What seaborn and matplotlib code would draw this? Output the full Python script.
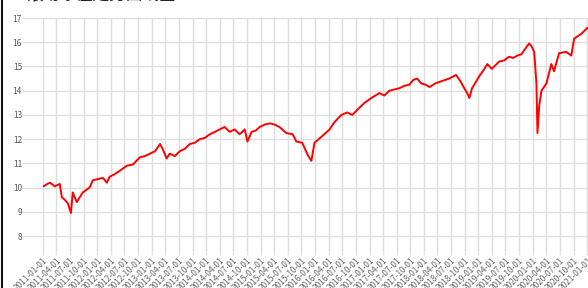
import matplotlib
matplotlib.use("Agg")
import matplotlib.dates as mdates
import matplotlib.pyplot as plt
import pandas as pd
import seaborn as sns
from matplotlib.lines import Line2D

title = "滚动净值走势曲线图"

dates = [
    "2011-01-04", "2011-01-31", "2011-02-18", "2011-03-21", "2011-04-24", "2011-05-08",
    "2011-05-27", "2011-06-17", "2011-07-08", "2011-07-20", "2011-08-16", "2011-09-05",
    "2011-09-26", "2011-11-10", "2011-12-02", "2012-01-05", "2012-02-08", "2012-03-05",
    "2012-03-24", "2012-04-26", "2012-06-01", "2012-07-17", "2012-08-26", "2012-10-13",
    "2012-11-15", "2012-12-19", "2013-01-22", "2013-02-25", "2013-03-14", "2013-04-10",
    "2013-05-01", "2013-06-04", "2013-07-07", "2013-08-10", "2013-09-13", "2013-10-16",
    "2013-11-19", "2013-12-22", "2014-01-25", "2014-02-28", "2014-04-01", "2014-05-04",
    "2014-06-07", "2014-07-10", "2014-08-13", "2014-09-16", "2014-10-04", "2014-11-01",
    "2014-11-28", "2014-12-25", "2015-01-28", "2015-03-03", "2015-04-04", "2015-05-07",
    "2015-06-22", "2015-08-04", "2015-08-28", "2015-10-07", "2015-11-12", "2015-12-07",
    "2015-12-28", "2016-02-13", "2016-04-07", "2016-05-10", "2016-06-25", "2016-08-04",
    "2016-09-07", "2016-10-25", "2016-11-28", "2017-01-13", "2017-03-07", "2017-04-10",
    "2017-05-13", "2017-06-16", "2017-07-19", "2017-08-22", "2017-09-25", "2017-10-22",
    "2017-11-16", "2017-12-13", "2018-01-10", "2018-02-07", "2018-03-17", "2018-05-02",
    "2018-06-19", "2018-08-04", "2018-09-01", "2018-09-28", "2018-10-17", "2018-11-01",
    "2018-11-19", "2019-01-07", "2019-02-10", "2019-03-01", "2019-04-01", "2019-05-19",
    "2019-06-22", "2019-07-25", "2019-08-22", "2019-09-19", "2019-10-16", "2019-11-19",
    "2019-12-07", "2019-12-22", "2020-01-10", "2020-01-25", "2020-02-01", "2020-02-13",
    "2020-02-28", "2020-04-01", "2020-05-04", "2020-05-22", "2020-06-25", "2020-08-12",
    "2020-09-15", "2020-10-04", "2020-11-22", "2021-01-01",
]

values = [
    10.05, 10.15, 10.2, 10.05, 10.15, 9.6,
    9.5, 9.35, 8.95, 9.8, 9.4, 9.6,
    9.8, 10.0, 10.3, 10.35, 10.4, 10.2,
    10.45, 10.55, 10.7, 10.9, 10.95, 11.25,
    11.3, 11.4, 11.5, 11.8, 11.6, 11.2,
    11.4, 11.3, 11.5, 11.6, 11.8, 11.85,
    12.0, 12.05, 12.2, 12.3, 12.4, 12.5,
    12.3, 12.4, 12.2, 12.4, 11.9, 12.3,
    12.35, 12.5, 12.6, 12.65, 12.6, 12.5,
    12.25, 12.2, 11.9, 11.85, 11.35, 11.1,
    11.85, 12.1, 12.4, 12.7, 13.0, 13.1,
    13.0, 13.3, 13.5, 13.7, 13.9, 13.8,
    14.0, 14.05, 14.1, 14.2, 14.25, 14.45,
    14.5, 14.3, 14.25, 14.15, 14.3, 14.4,
    14.5, 14.65, 14.4, 14.1, 13.9, 13.7,
    14.1, 14.6, 14.9, 15.1, 14.9, 15.2,
    15.25, 15.4, 15.35, 15.45, 15.5, 15.8,
    15.95, 15.85, 15.6, 14.3, 12.25, 13.4,
    14.0, 14.3, 15.1, 14.8, 15.55, 15.6,
    15.45, 16.15, 16.35, 16.6,
]

y_ticks = [8, 9, 10, 11, 12, 13, 14, 15, 16, 17]

df = pd.DataFrame({"date": pd.to_datetime(dates), "value": values})

sns.set_theme(style="whitegrid")
plt.rcParams["font.family"] = ["Noto Sans CJK SC", "DejaVu Sans"]

fig = plt.figure(figsize=(5.88, 2.88), dpi=100)
ax = fig.add_axes([0.073, 0.125, 0.927, 0.8125])

sns.lineplot(data=df, x="date", y="value", color="#ff0000", linewidth=1.4, ax=ax)

ax.set_xlim(pd.Timestamp("2011-01-01"), pd.Timestamp("2021-01-05"))
ax.set_ylim(7.34, 17)
ax.set_yticks(y_ticks)
ax.xaxis.set_major_locator(mdates.MonthLocator(bymonth=[1, 4, 7, 10]))
ax.xaxis.set_major_formatter(mdates.DateFormatter("%Y-%m-%d"))

grid_color = "#dedede"
ax.grid(True, color=grid_color, linewidth=1.0)
for s in ax.spines.values():
    s.set_visible(False)
ax.set_xlabel("")
ax.set_ylabel("")
ax.tick_params(axis="y", length=15, width=1.0, color=grid_color, pad=0,
               labelsize=6, labelcolor="#555555", left=True)
ax.tick_params(axis="x", length=2, width=1.0, color=grid_color, pad=1,
               labelsize=6, labelcolor="#666666", bottom=True)
for lab in ax.get_xticklabels():
    lab.set_rotation(45)
    lab.set_ha("right")
    lab.set_rotation_mode("anchor")

# title sits mostly above the visible area, as in the source screenshot
fig.text(0.045, 0.984, title, fontsize=12, color="#222222", va="bottom", ha="left")
fig.add_artist(Line2D([0.004, 0.004], [0, 1], transform=fig.transFigure,
                      color="#111111", linewidth=1.5))

fig.savefig("out.png", dpi=100)
